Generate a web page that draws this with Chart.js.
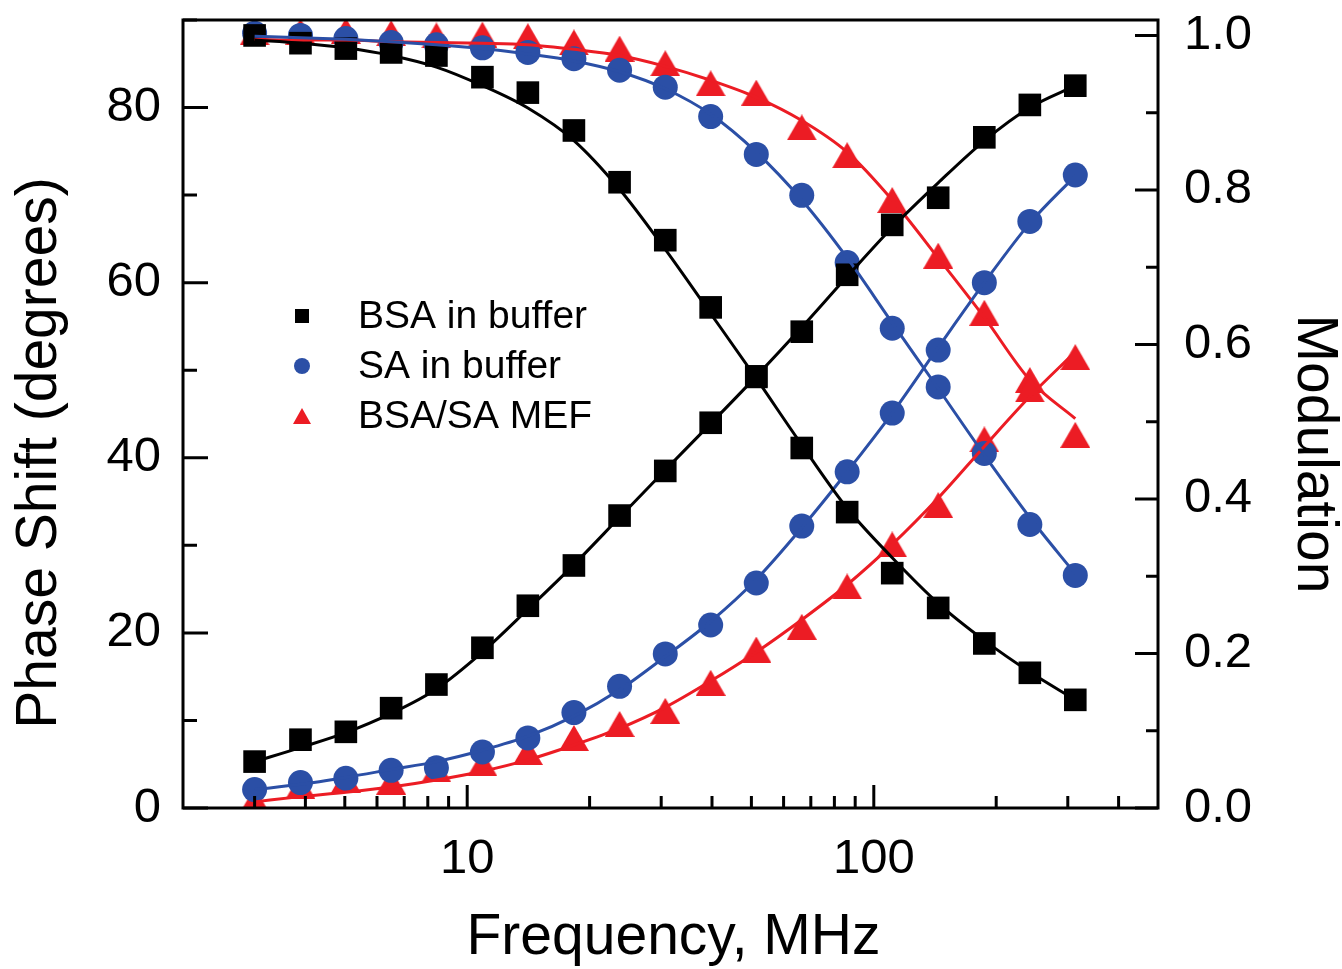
<!DOCTYPE html>
<html>
<head>
<meta charset="utf-8">
<script src="https://cdn.jsdelivr.net/npm/chart.js@4.4.0/dist/chart.umd.min.js"></script>
<style>
  html, body { margin: 0; padding: 0; background: #fff; }
</style>
</head>
<body>
<canvas id="phaseChart" width="1342" height="969"></canvas>
<script>
// modulation frequency, MHz
const freq = [3.0, 3.89, 5.03, 6.5, 8.4, 10.9, 14.1, 18.3, 23.7, 30.7, 39.7, 51.4, 66.5, 86, 111, 144, 187, 242, 313];

// phase shift, degrees (left axis) - measured points and fitted curve
const bsaPhase    = [5.3, 7.8, 8.7, 11.4, 14.1, 18.3, 23.1, 27.7, 33.4, 38.5, 44.0, 49.3, 54.4, 60.9, 66.6, 69.7, 76.6, 80.3, 82.5];
const bsaPhaseFit = [5.3, 6.9, 8.6, 10.8, 13.6, 17.8, 22.7, 27.8, 33.2, 38.6, 43.9, 49.3, 54.9, 60.7, 66.3, 71.4, 76.2, 80.0, 82.5];
const saPhase     = [2.1, 2.9, 3.4, 4.3, 4.6, 6.4, 8.0, 10.9, 13.9, 17.6, 20.9, 25.7, 32.2, 38.4, 45.1, 52.3, 60.0, 67.0, 72.3];
const saPhaseFit  = [2.1, 2.7, 3.5, 4.4, 5.3, 6.6, 8.2, 10.5, 13.5, 17.3, 21.3, 26.1, 32.0, 38.4, 45.1, 52.6, 60.0, 66.8, 72.2];
const mefPhase    = [0.9, 2.5, 3.2, 3.0, 4.4, 5.1, 6.4, 8.0, 9.6, 11.1, 14.3, 18.1, 20.7, 25.3, 30.1, 34.6, 42.1, 47.8, 51.5];
const mefPhaseFit = [0.7, 1.3, 1.8, 2.4, 3.2, 4.2, 5.5, 7.2, 9.1, 11.5, 14.5, 17.8, 21.5, 25.5, 30.1, 35.4, 41.3, 47.0, 52.1];

// modulation (right axis) - measured points and fitted curve
const bsaMod    = [1.000, 0.990, 0.983, 0.978, 0.974, 0.946, 0.926, 0.877, 0.810, 0.735, 0.648, 0.558, 0.466, 0.383, 0.304, 0.259, 0.213, 0.175, 0.140];
const bsaModFit = [0.994, 0.990, 0.984, 0.974, 0.959, 0.935, 0.906, 0.864, 0.801, 0.723, 0.640, 0.556, 0.470, 0.388, 0.324, 0.265, 0.217, 0.176, 0.140];
const saMod     = [1.003, 1.000, 0.996, 0.991, 0.988, 0.984, 0.978, 0.970, 0.955, 0.933, 0.895, 0.846, 0.793, 0.706, 0.621, 0.545, 0.459, 0.367, 0.301];
const saModFit  = [0.999, 0.997, 0.995, 0.992, 0.988, 0.983, 0.976, 0.967, 0.953, 0.931, 0.898, 0.849, 0.787, 0.712, 0.628, 0.543, 0.457, 0.376, 0.303];
const mefMod    = [1.004, 1.005, 1.006, 1.003, 1.000, 1.001, 0.999, 0.991, 0.983, 0.964, 0.938, 0.926, 0.881, 0.845, 0.787, 0.715, 0.641, 0.554, 0.483];
const mefModFit = [0.995, 0.994, 0.994, 0.992, 0.991, 0.990, 0.988, 0.982, 0.974, 0.960, 0.942, 0.920, 0.890, 0.849, 0.787, 0.712, 0.635, 0.554, 0.504];

const seriesNames = ['BSA in buffer', 'SA in buffer', 'BSA/SA MEF'];

// ticks
const freqTicks     = [3, 4, 5, 6, 7, 8, 9, 10, 20, 30, 40, 50, 60, 70, 80, 90, 100, 200, 300, 400];
const freqTickText  = ['', '', '', '', '', '', '', '10', '', '', '', '', '', '', '', '', '100', '', '', ''];
const phaseTicks    = [0, 10, 20, 30, 40, 50, 60, 70, 80, 90];
const phaseTickText = ['0', '', '20', '', '40', '', '60', '', '80', ''];
const modTicks      = [0, 0.1, 0.2, 0.3, 0.4, 0.5, 0.6, 0.7, 0.8, 0.9, 1.0];
const modTickText   = ['0.0', '', '0.2', '', '0.4', '', '0.6', '', '0.8', '', '1.0'];

const BLACK = '#000000';
const BLUE = '#2b4fa6';
const RED = '#ec1c24';
const FONT = '"Liberation Sans", Arial, Helvetica, sans-serif';

Chart.defaults.font.family = FONT;
Chart.defaults.color = '#000';

// triangle marker centred on its bounding box
function triMark(w, color) {
  const h = Math.round(w * 0.87);
  const c = document.createElement('canvas');
  c.width = w; c.height = h;
  const g = c.getContext('2d');
  g.fillStyle = color;
  g.beginPath();
  g.moveTo(w / 2, 0); g.lineTo(w, h); g.lineTo(0, h);
  g.closePath();
  g.fill();
  return c;
}

function pts(ys) {
  return freq.map((f, i) => ({ x: f, y: ys[i] }));
}

function markers(ys, axis, color, style, r) {
  return {
    data: pts(ys), yAxisID: axis, showLine: false, order: 2,
    pointStyle: style, pointRadius: r, pointHoverRadius: r,
    backgroundColor: color, borderColor: color, pointBorderWidth: 0
  };
}

function fitLine(ys, axis, color) {
  return {
    data: pts(ys), yAxisID: axis, showLine: true, order: 1,
    borderColor: color, borderWidth: 3, pointRadius: 0, fill: false,
    cubicInterpolationMode: 'monotone'
  };
}

const tri = triMark(30, RED);

const frame = {
  id: 'frame',
  afterDatasetsDraw(chart) {
    const { ctx, chartArea: a, scales } = chart;
    ctx.save();
    ctx.strokeStyle = '#000';
    ctx.lineWidth = 3;
    ctx.strokeRect(a.left, a.top, a.right - a.left, a.bottom - a.top);

    // inward tick marks
    ctx.beginPath();
    scales.x.ticks.forEach((t, i) => {
      const px = scales.x.getPixelForValue(t.value);
      const len = freqTickText[i] ? 23 : 12;
      ctx.moveTo(px, a.bottom); ctx.lineTo(px, a.bottom - len);
    });
    scales.y.ticks.forEach((t, i) => {
      const py = scales.y.getPixelForValue(t.value);
      const len = phaseTickText[i] ? 25 : 14;
      ctx.moveTo(a.left, py); ctx.lineTo(a.left + len, py);
    });
    scales.y1.ticks.forEach((t, i) => {
      const py = scales.y1.getPixelForValue(t.value);
      const len = modTickText[i] ? 23 : 12;
      ctx.moveTo(a.right, py); ctx.lineTo(a.right - len, py);
    });
    ctx.stroke();

    // legend
    const colors = [BLACK, BLUE, RED];
    ctx.font = '39px ' + FONT;
    ctx.textBaseline = 'middle';
    ctx.textAlign = 'left';
    seriesNames.forEach((name, i) => {
      const cy = 316 + i * 50, cx = 302;
      ctx.fillStyle = colors[i];
      if (i === 0) ctx.fillRect(cx - 7, cy - 7, 14, 14);
      if (i === 1) { ctx.beginPath(); ctx.arc(cx, cy, 8, 0, Math.PI * 2); ctx.fill(); }
      if (i === 2) {
        ctx.beginPath();
        ctx.moveTo(cx, cy - 8); ctx.lineTo(cx + 9, cy + 8); ctx.lineTo(cx - 9, cy + 8);
        ctx.closePath(); ctx.fill();
      }
      ctx.fillStyle = '#000';
      ctx.fillText(name, 358, cy + 1);
    });

    // axis titles
    ctx.font = '57px ' + FONT;
    ctx.textAlign = 'center';
    ctx.fillText('Frequency, MHz', (a.left + a.right) / 2 + 3, 938);
    ctx.save();
    ctx.translate(40, 453);
    ctx.rotate(-Math.PI / 2);
    ctx.fillText('Phase Shift (degrees)', 0, 0);
    ctx.restore();
    ctx.save();
    ctx.translate(1314, 454);
    ctx.rotate(Math.PI / 2);
    ctx.fillText('Modulation', 0, 0);
    ctx.restore();
    ctx.restore();
  }
};

const ctx = document.getElementById('phaseChart').getContext('2d');
const phaseChart = new Chart(ctx, {
  type: 'scatter',
  data: {
    datasets: [
      markers(bsaPhase, 'y', BLACK, 'rect', 16),
      markers(bsaMod, 'y1', BLACK, 'rect', 16),
      markers(saPhase, 'y', BLUE, 'circle', 12.5),
      markers(saMod, 'y1', BLUE, 'circle', 12.5),
      markers(mefPhase, 'y', RED, tri, 15),
      markers(mefMod, 'y1', RED, tri, 15),
      fitLine(bsaPhaseFit, 'y', BLACK),
      fitLine(bsaModFit, 'y1', BLACK),
      fitLine(saPhaseFit, 'y', BLUE),
      fitLine(saModFit, 'y1', BLUE),
      fitLine(mefPhaseFit, 'y', RED),
      fitLine(mefModFit, 'y1', RED)
    ]
  },
  options: {
    responsive: false,
    animation: false,
    layout: { padding: { top: 20, left: 0, right: 0, bottom: 0 } },
    plugins: { legend: { display: false }, tooltip: { enabled: false } },
    scales: {
      x: {
        type: 'logarithmic', position: 'bottom', min: 2, max: 500,
        grid: { display: false, drawTicks: false }, border: { display: false },
        afterBuildTicks: s => { s.ticks = freqTicks.map(v => ({ value: v })); },
        afterFit: s => { s.height = 161; s.paddingLeft = 0; s.paddingRight = 0; },
        ticks: {
          autoSkip: false, maxRotation: 0, padding: 22,
          font: { size: 49 },
          callback: (v, i) => freqTickText[i]
        }
      },
      y: {
        type: 'linear', position: 'left', min: 0, max: 90,
        grid: { display: false, drawTicks: false }, border: { display: false },
        afterBuildTicks: s => { s.ticks = phaseTicks.map(v => ({ value: v })); },
        afterFit: s => { s.width = 183; s.paddingTop = 0; s.paddingBottom = 0; },
        ticks: {
          autoSkip: false, padding: 22,
          font: { size: 49 },
          callback: (v, i) => phaseTickText[i]
        }
      },
      y1: {
        type: 'linear', position: 'right', min: 0, max: 1.02,
        grid: { display: false, drawTicks: false }, border: { display: false },
        afterBuildTicks: s => { s.ticks = modTicks.map(v => ({ value: v })); },
        afterFit: s => { s.width = 184; s.paddingTop = 0; s.paddingBottom = 0; },
        ticks: {
          autoSkip: false, padding: 26,
          font: { size: 49 },
          callback: (v, i) => modTickText[i]
        }
      }
    }
  },
  plugins: [frame]
});
</script>
</body>
</html>
